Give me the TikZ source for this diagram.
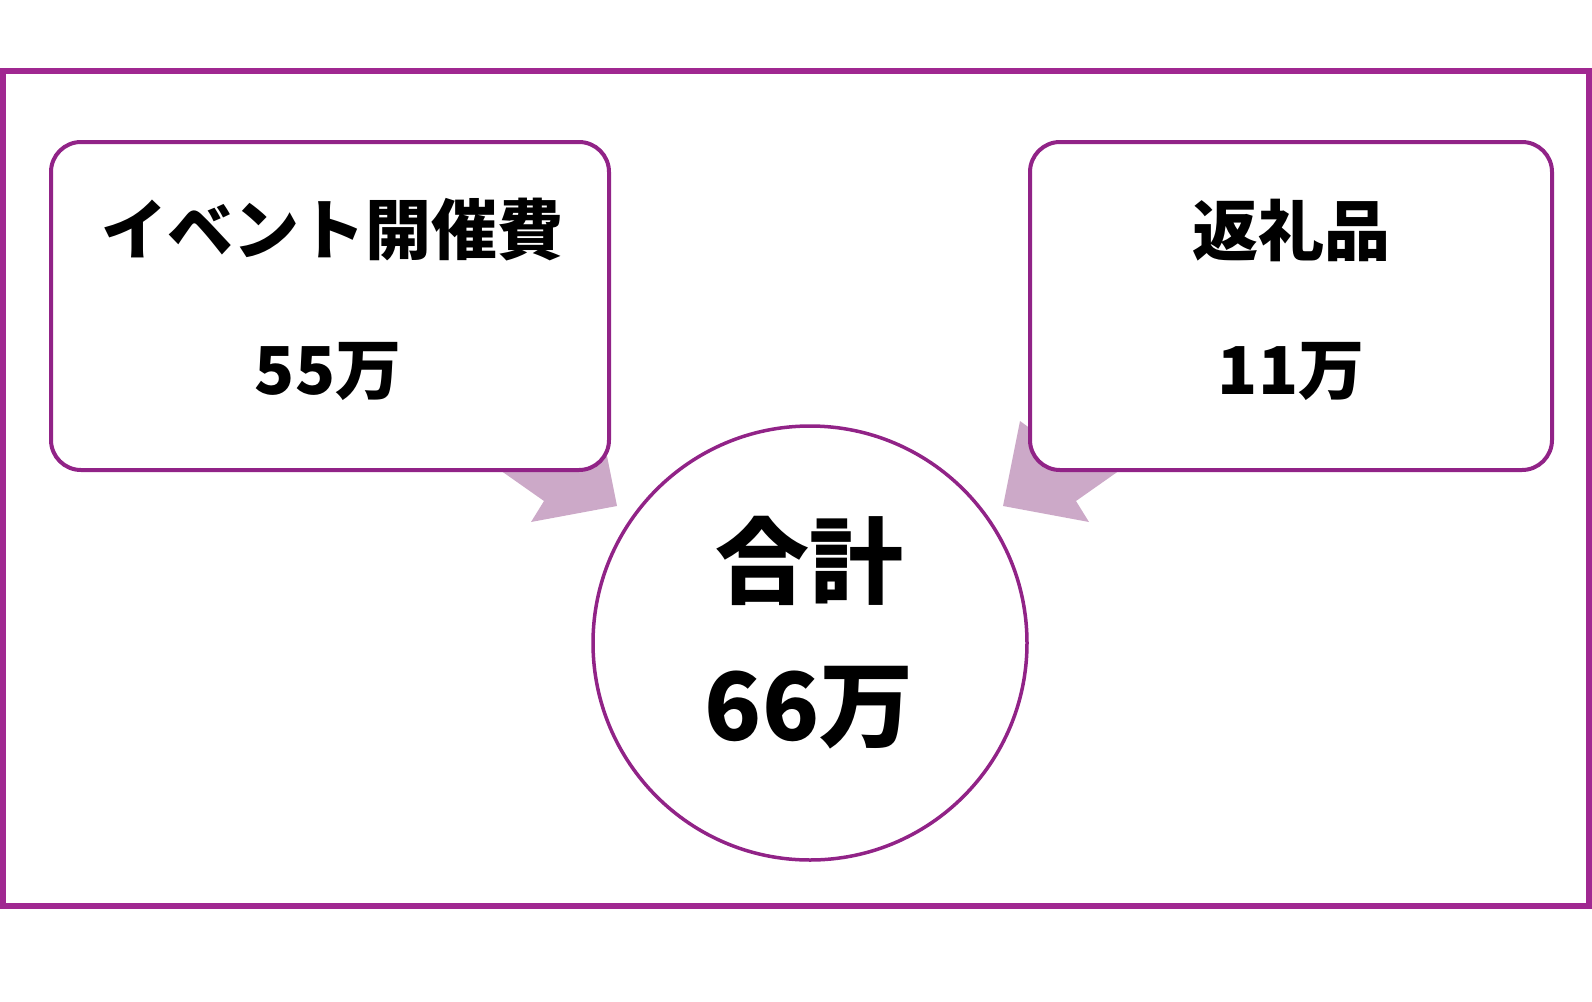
\documentclass[tikz,border=0pt]{standalone}
\usepackage{fontspec}
\newfontfamily\jpfont{Noto Sans CJK JP}
\usetikzlibrary{positioning}
\definecolor{framepurple}{RGB}{160,40,145}
\definecolor{boxpurple}{RGB}{145,35,135}
\definecolor{arrowpink}{RGB}{204,169,200}

\begin{document}
\begin{tikzpicture}[x=1pt, y=-1pt,
    frame/.style={draw=framepurple, line width=6pt},
    item_box/.style={draw=boxpurple, line width=4pt, fill=white, rounded corners=30pt, minimum height=328pt},
    total_circle/.style={circle, draw=boxpurple, line width=3.5pt, fill=white, minimum size=434pt},
    item_label/.style={font=\jpfont\bfseries\fontsize{66}{72}\selectfont},
    total_label/.style={font=\jpfont\bfseries\fontsize{94}{100}\selectfont},
    flow_arrow/.style={fill=arrowpink}
]
    \useasboundingbox (0,0) rectangle (1592,1001);
    % Rahmen
    \draw[frame] (3,71) rectangle (1589,906);
    % Pfeile (unter den Kaesten)
    \fill[flow_arrow] (470,449) -- (544,501) -- (531,522) -- (617,506) -- (600,421) -- cycle;
    \fill[flow_arrow] (1150,449) -- (1076,501) -- (1089,522) -- (1003,506) -- (1020,421) -- (1060,450) -- cycle;
    % Kaesten
    \node[item_box, minimum width=558pt] (cost) at (330,306) {};
    \node[item_box, minimum width=522pt] (gift) at (1291,306) {};
    \node[total_circle] (total) at (810,643) {};
    % Texte
    \node[item_label] (cost_name) at (332,230) {イベント開催費};
    \node[item_label] (cost_value) at (328,371) {55万};
    \node[item_label] (gift_name) at (1291,230) {返礼品};
    \node[item_label] (gift_value) at (1291,371) {11万};
    \node[total_label] (total_name) at (809,561) {合計};
    \node[total_label] (total_value) at (809,708) {66万};
\end{tikzpicture}
\end{document}
